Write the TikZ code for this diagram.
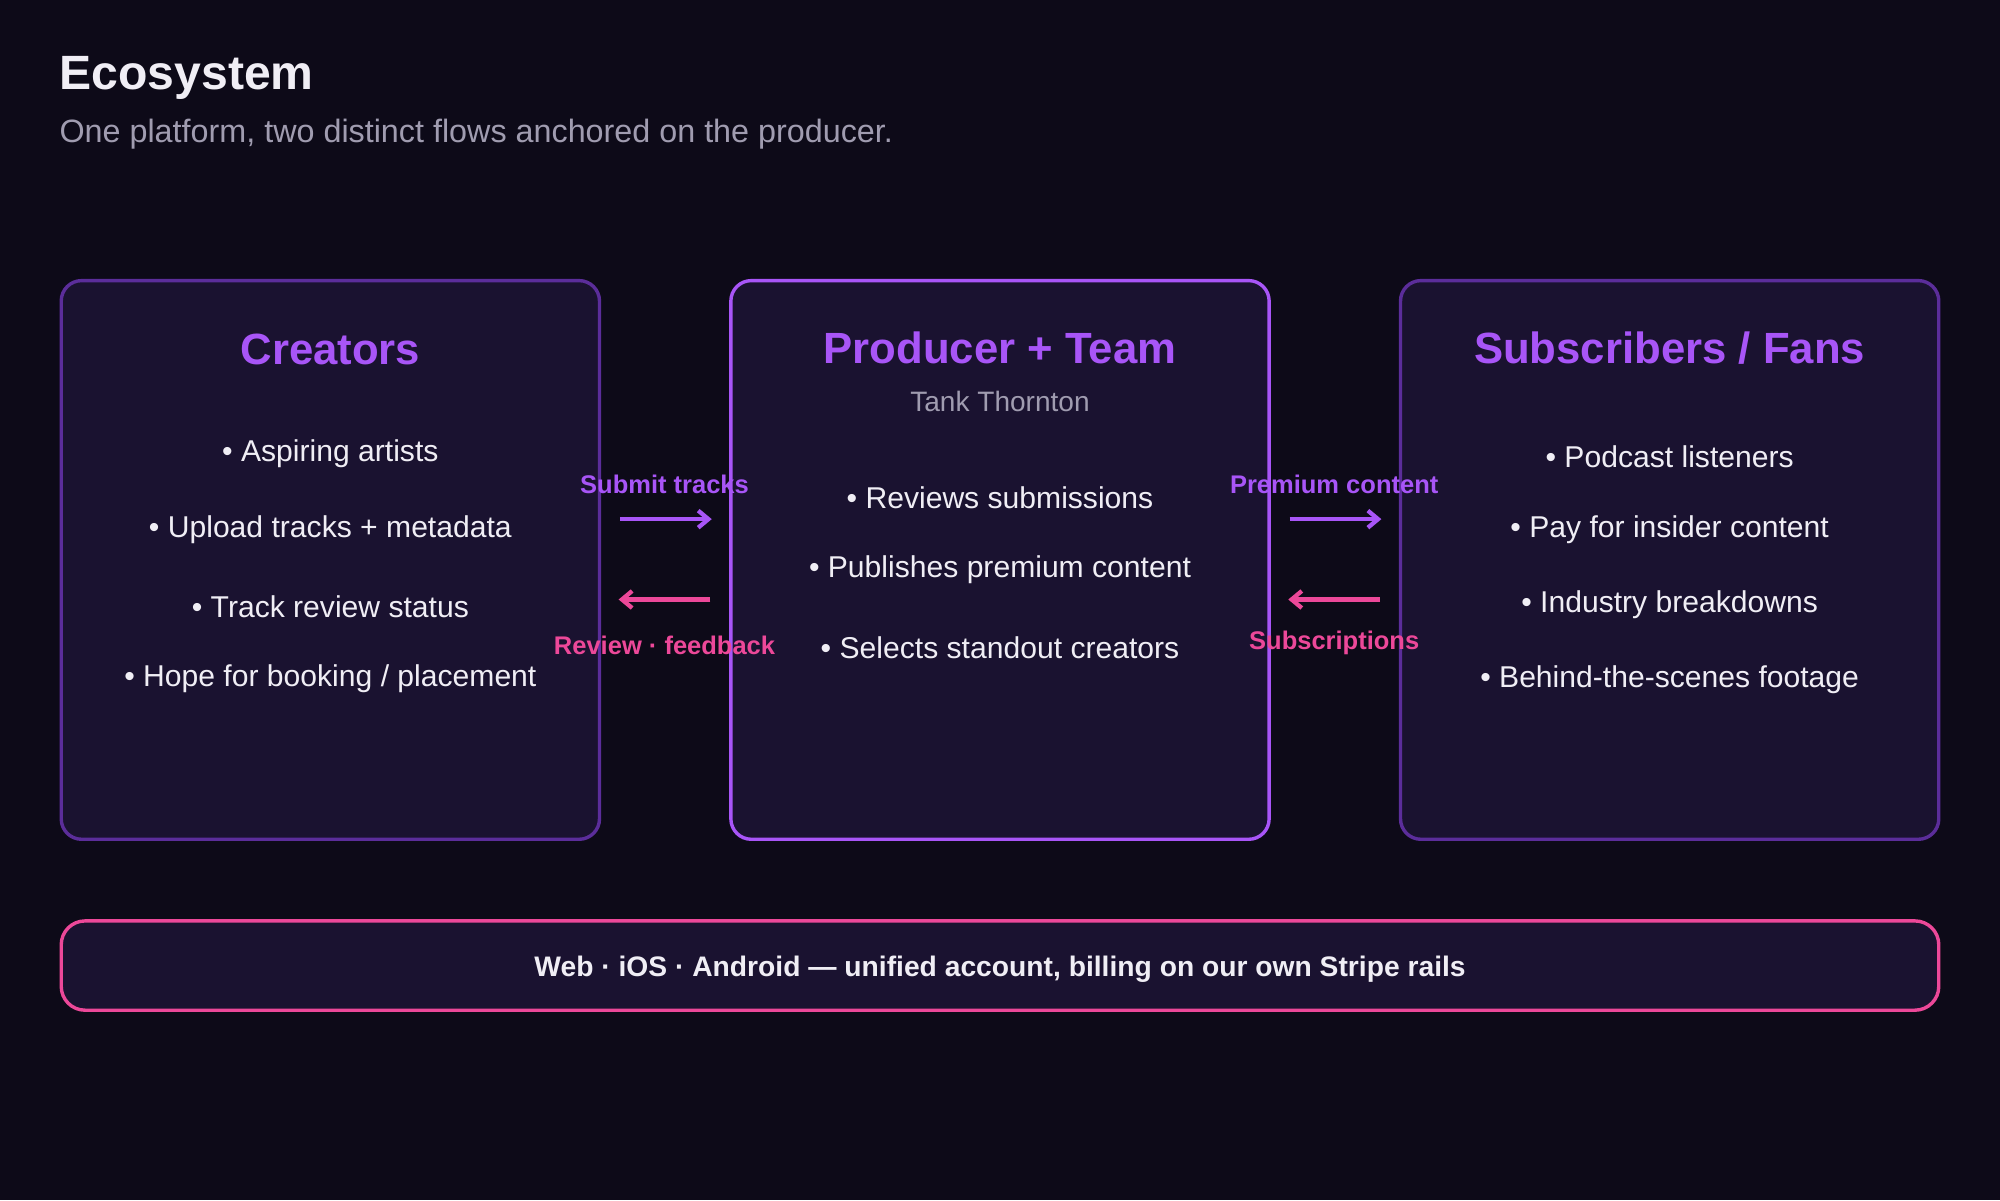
\documentclass[tikz,border=0pt]{standalone}
\usepackage{fontspec}
\setmainfont{Liberation Sans}
\usetikzlibrary{arrows.meta}
\definecolor{bgc}{HTML}{0D0A18}
\definecolor{boxc}{HTML}{1A1230}
\definecolor{edgec}{HTML}{5B2D9A}
\definecolor{violet}{HTML}{A855F7}
\definecolor{pinkc}{HTML}{EC4899}
\definecolor{txtc}{HTML}{F0EEF5}
\definecolor{greyc}{HTML}{A09CB0}
\tikzset{
  panel/.style={draw=edgec,line width=2pt,fill=boxc,rounded corners=12pt},
  head/.style={font=\fontsize{25.7}{30}\selectfont\bfseries,text=violet},
  item/.style={font=\fontsize{17.7}{21}\selectfont,text=txtc},
  flowlbl/.style={font=\fontsize{15}{18}\selectfont\bfseries},
  flow/.style={line width=2.5pt,-{Straight Barb[length=6pt,width=10pt]}},
}
\begin{document}
\begin{tikzpicture}[x=0.75pt,y=-0.75pt]
  \fill[bgc] (0,0) rectangle (1568,941);
  \useasboundingbox (0,0) rectangle (1568,941);

% header
  \node[anchor=west,text=txtc,font=\fontsize{28.3}{33}\selectfont\bfseries] (title) at (42,61) {Ecosystem};
  \node[anchor=west,text=greyc,font=\fontsize{19}{23}\selectfont] (subtitle) at (42,105) {One platform, two distinct flows anchored on the producer.};

% panels
  \draw[panel] (48,220) rectangle (470,658);
  \draw[panel,draw=violet] (573,220) rectangle (995,658);
  \draw[panel] (1098,220) rectangle (1520,658);

% creators
  \node[head] (creators) at (259,274) {Creators};
  \node[item] (c1) at (259,356) {• Aspiring artists};
  \node[item] (c2) at (259,415) {• Upload tracks + metadata};
  \node[item] (c3) at (259,476) {• Track review status};
  \node[item] (c4) at (259,532) {• Hope for booking / placement};

% producer
  \node[head] (producer) at (784,273) {Producer + Team};
  \node[text=greyc,font=\fontsize{16.5}{19}\selectfont] (name) at (784,315) {Tank Thornton};
  \node[item] (p1) at (784,390) {• Reviews submissions};
  \node[item] (p2) at (784,447) {• Publishes premium content};
  \node[item] (p3) at (784,508) {• Selects standout creators};

% subscribers
  \node[head] (fans) at (1309,273) {Subscribers / Fans};
  \node[item] (s1) at (1309,358) {• Podcast listeners};
  \node[item] (s2) at (1309,415) {• Pay for insider content};
  \node[item] (s3) at (1309,474) {• Industry breakdowns};
  \node[item] (s4) at (1309,533) {• Behind-the-scenes footage};

% flows
  \coordinate (la) at (486,407); \coordinate (lb) at (558,407);
  \coordinate (lc) at (557,470); \coordinate (ld) at (485,470);
  \coordinate (ra) at (1011,407); \coordinate (rb) at (1083,407);
  \coordinate (rc) at (1082,470); \coordinate (rd) at (1010,470);
  \draw[flow,violet] (la) -- (lb);
  \draw[flow,pinkc] (lc) -- (ld);
  \draw[flow,violet] (ra) -- (rb);
  \draw[flow,pinkc] (rc) -- (rd);
  \node[flowlbl,text=violet] (submit) at (521,380) {Submit tracks};
  \node[flowlbl,text=pinkc] (review) at (521,506) {Review · feedback};
  \node[flowlbl,text=violet] (premium) at (1046,380) {Premium content};
  \node[flowlbl,text=pinkc] (subs) at (1046,504) {Subscriptions};

% platform bar
  \draw[panel,draw=pinkc,rounded corners=14pt] (48,722) rectangle (1520,792);
  \node[text=txtc,font=\fontsize{16.6}{20}\selectfont\bfseries] (platform) at (784,760) {Web · iOS · Android — unified account, billing on our own Stripe rails};
\end{tikzpicture}
\end{document}
